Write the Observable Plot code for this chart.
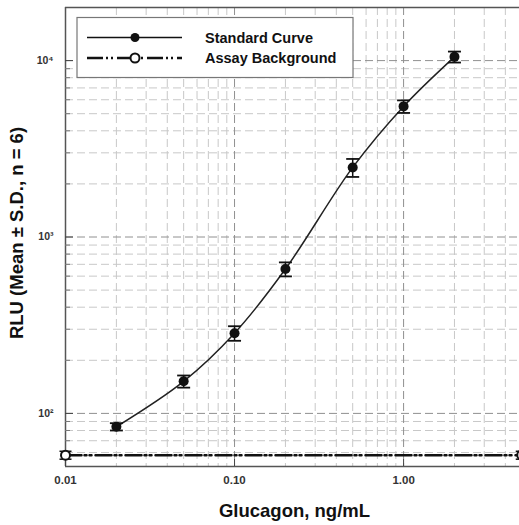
<!DOCTYPE html>
<html><head><meta charset="utf-8">
<script src="https://cdn.jsdelivr.net/npm/d3@7"></script>
<script src="https://cdn.jsdelivr.net/npm/@observablehq/plot@0.6"></script>
<style>body{margin:0;background:#fff;overflow:hidden}</style>
</head><body><div id="chart"></div>
<script>
// ---- data ----
const conc = [0.02, 0.05, 0.1, 0.2, 0.5, 1, 2];
const rluMean = [84, 152, 285, 658, 2480, 5500, 10500];
const rluSD = [4, 12, 27, 60, 290, 450, 750];
const bgConc = [0.01, 5];
const bgMean = [58, 58];
const bgSD = [3, 3];
const xDomain = [0.01, 4.85];
const yDomain = [50, 20000];
const xMajor = [0.01, 0.1, 1];
const xMajorLabels = ["0.01", "0.10", "1.00"];
const xMinor = [0.02, 0.03, 0.04, 0.05, 0.06, 0.07, 0.08, 0.09, 0.2, 0.3, 0.4, 0.5, 0.6, 0.7, 0.8, 0.9, 2, 3, 4];
const yMajor = [100, 1000, 10000];
const yMajorLabels = ["10\u00B2", "10\u00B3", "10\u2074"];
const yMinor = [60, 70, 80, 90, 200, 300, 400, 500, 600, 700, 800, 900, 2000, 3000, 4000, 5000, 6000, 7000, 8000, 9000];
const xTitle = "Glucagon, ng/mL";
const yTitle = "RLU (Mean \u00B1 S.D., n = 6)";
const legendLabels = ["Standard Curve", "Assay Background"];

const std = conc.map((x, i) => ({x, y: rluMean[i], lo: rluMean[i] - rluSD[i], hi: rluMean[i] + rluSD[i]}));
const bg = bgConc.map((x, i) => ({x, y: bgMean[i], lo: bgMean[i] - bgSD[i], hi: bgMean[i] + bgSD[i]}));

const cap = {draw(ctx, size) { const w = Math.sqrt(size / Math.PI); ctx.moveTo(-w, 0); ctx.lineTo(w, 0); }};
const bgDash = "16,3,2,3,2,4";
const W = 519, H = 525, ML = 65, MR = 0, MT = 7, MB = 59;
const plotW = W - ML - MR, plotH = H - MT - MB;

const plot = Plot.plot({
  width: W, height: H,
  marginLeft: ML, marginRight: MR, marginTop: MT, marginBottom: MB,
  style: {fontFamily: "'Liberation Sans', Arial, sans-serif", background: "white", color: "#222"},
  x: {type: "log", domain: xDomain, axis: null},
  y: {type: "log", domain: yDomain, axis: null},
  marks: [
    Plot.gridX(xMinor, {stroke: "#c8c8c8", strokeOpacity: 1, strokeDasharray: "8,4"}),
    Plot.gridY(yMinor, {stroke: "#c8c8c8", strokeOpacity: 1, strokeDasharray: "8,4"}),
    Plot.gridX(xMajor, {stroke: "#909090", strokeOpacity: 1, strokeDasharray: "8,4"}),
    Plot.gridY(yMajor, {stroke: "#909090", strokeOpacity: 1, strokeDasharray: "8,4"}),
    // frame (left, top, bottom)
    Plot.ruleX([xDomain[0]], {stroke: "#555", strokeWidth: 1.5}),
    Plot.ruleY(yDomain, {stroke: "#555", strokeWidth: 1.5}),
    // ticks
    Plot.ruleY(yMajor, {stroke: "#444", insetRight: plotW - 8}),
    Plot.ruleY(yMinor, {stroke: "#777", insetRight: plotW - 5}),
    Plot.ruleX(xMajor, {stroke: "#444", insetTop: plotH - 7}),
    // tick labels
    Plot.axisY(yMajor, {tickFormat: d => yMajorLabels[yMajor.indexOf(d)], tickSize: 0, tickPadding: 12, fontSize: 10.5, fontWeight: "bold", fill: "#333", label: null}),
    Plot.axisX(xMajor, {tickFormat: d => xMajorLabels[xMajor.indexOf(d)], tickSize: 0, tickPadding: 9, fontSize: 11.5, fontWeight: "bold", fill: "#333", label: null}),
    // titles
    Plot.text([xTitle], {text: d => d, frameAnchor: "bottom", dy: 45, dx: 2, lineAnchor: "middle", textAnchor: "middle", fontSize: 18.5, fontWeight: "bold", fill: "#111"}),
    Plot.text([yTitle], {text: d => d, frameAnchor: "left", rotate: -90, dx: -48, dy: -4, lineAnchor: "middle", textAnchor: "middle", fontSize: 18.5, fontWeight: "bold", fill: "#111"}),
    // background
    Plot.line(bg, {x: "x", y: "y", stroke: "#111", strokeWidth: 2.5, strokeDasharray: bgDash}),
    Plot.ruleX(bg, {x: "x", y1: "lo", y2: "hi", stroke: "#111", strokeWidth: 1.5}),
    Plot.dot(bg, {x: "x", y: "lo", symbol: cap, r: 6, stroke: "#111", strokeWidth: 1.5, fill: "none"}),
    Plot.dot(bg, {x: "x", y: "hi", symbol: cap, r: 6, stroke: "#111", strokeWidth: 1.5, fill: "none"}),
    Plot.dot(bg, {x: "x", y: "y", r: 4.5, stroke: "#111", strokeWidth: 2, fill: "white"}),
    // standard curve
    Plot.line(std, {x: "x", y: "y", curve: "catmull-rom", stroke: "#222", strokeWidth: 1.5}),
    Plot.ruleX(std, {x: "x", y1: "lo", y2: "hi", stroke: "#111", strokeWidth: 1.5}),
    Plot.dot(std, {x: "x", y: "lo", symbol: cap, r: 6.5, stroke: "#111", strokeWidth: 1.8, fill: "none"}),
    Plot.dot(std, {x: "x", y: "hi", symbol: cap, r: 6.5, stroke: "#111", strokeWidth: 1.8, fill: "none"}),
    Plot.dot(std, {x: "x", y: "y", r: 5, fill: "#111", stroke: "none"})
  ]
});

// legend
const svg = d3.select(plot);
const lg = svg.append("g").attr("font-family", "'Liberation Sans', Arial, sans-serif").attr("text-anchor", "start");
const lx = 77, ly = 17.5, lw = 276, lh = 60;
lg.append("rect").attr("x", lx).attr("y", ly).attr("width", lw).attr("height", lh)
  .attr("fill", "white").attr("stroke", "#777").attr("stroke-width", 1.2);
const rows = [
  {dash: null, fill: "#111", sw: 1.5},
  {dash: bgDash, fill: "white", sw: 2.5}
];
rows.forEach((r, i) => {
  const y = ly + 20 + i * 20.5;
  lg.append("line").attr("x1", lx + 10).attr("x2", lx + 105).attr("y1", y).attr("y2", y)
    .attr("stroke", "#111").attr("stroke-width", r.sw).attr("stroke-dasharray", r.dash);
  lg.append("circle").attr("cx", lx + 58).attr("cy", y).attr("r", 4.5)
    .attr("fill", r.fill).attr("stroke", "#111").attr("stroke-width", i ? 2 : 0);
  lg.append("text").attr("x", lx + 128).attr("y", y).attr("dy", "0.35em").attr("text-anchor", "start")
    .attr("font-size", 14.5).attr("font-weight", "bold").attr("fill", "#111").text(legendLabels[i]);
});

document.getElementById("chart").appendChild(plot);
</script>
</body></html>
